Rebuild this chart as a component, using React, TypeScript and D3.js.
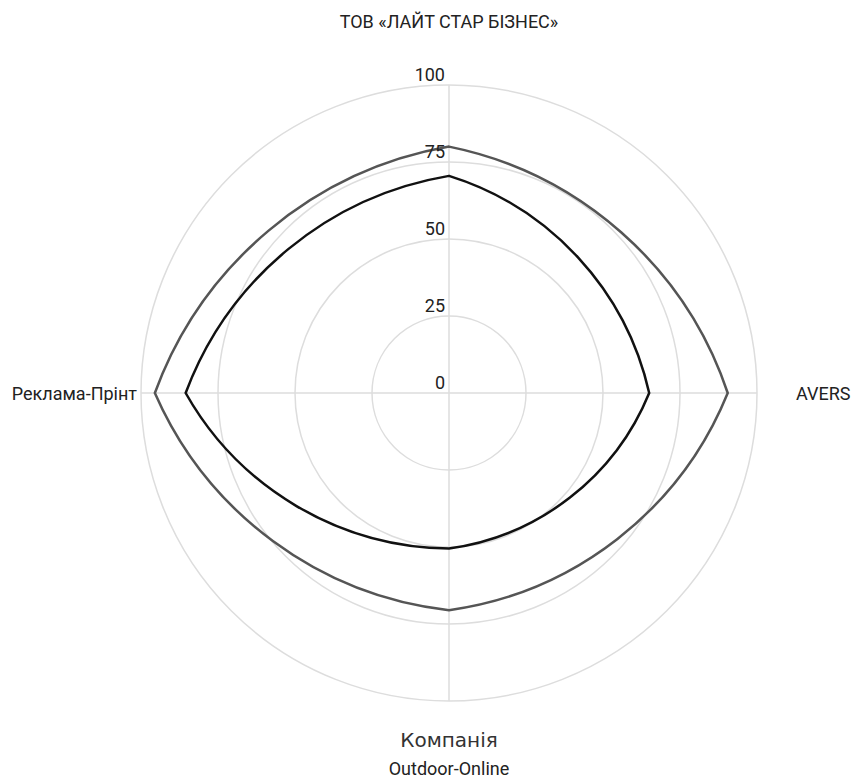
import React from "react";
import * as d3 from "d3";

const axes = ["ТОВ «ЛАЙТ СТАР БІЗНЕС»", "AVERS", "Outdoor-Online", "Реклама-Прінт"];
const seriesOuter = [80, 90.5, 70.5, 95.5];
const seriesInner = [70.5, 65, 50.5, 85.5];
const ticks = [0, 25, 50, 75, 100];
const axisTitle = "Компанія";

const W = 853, H = 778;
const cx = 449, cy = 393;
const R = 308;

export default function App() {
  const r = d3.scaleLinear().domain([0, 100]).range([0, R]);
  const angle = d3.scaleLinear().domain([0, axes.length]).range([0, 2 * Math.PI]);

  // each segment drawn as an arc whose radius equals the chord length
  const pathFor = (vals: number[]) => {
    const pts = vals.map((v, i) => {
      const p = d3.pointRadial(angle(i), r(v));
      return p;
    });
    let d = `M${pts[0][0]},${pts[0][1]}`;
    pts.forEach((p, i) => {
      const q = pts[(i + 1) % pts.length];
      const dr = Math.hypot(q[0] - p[0], q[1] - p[1]);
      d += `A${dr},${dr} 0 0 1 ${q[0]},${q[1]}`;
    });
    return d + "Z";
  };

  const font = "Roboto, sans-serif";
  return (
    <svg width={W} height={H} style={{ position: "absolute", left: 0, top: 0, background: "#fff" }}>
      <g transform={`translate(${cx},${cy})`}>
        {ticks.filter((t) => t > 0).map((t) => (
          <circle key={t} r={r(t)} fill="none" stroke="#dddddd" strokeWidth={1.5} />
        ))}
        {axes.map((a, i) => {
          const [x2, y2] = d3.pointRadial(angle(i), R);
          return <line key={a} x1={0} y1={0} x2={x2} y2={y2} stroke="#dddddd" strokeWidth={1.5} />;
        })}
        <path d={pathFor(seriesOuter)} fill="none" stroke="#555555" strokeWidth={2.5} />
        <path d={pathFor(seriesInner)} fill="none" stroke="#111111" strokeWidth={2.5} />
        {ticks.map((t) => (
          <text key={t} x={-4} y={-r(t) - 4} textAnchor="end" fontFamily={font} fontSize={18} fill="#222">
            {t}
          </text>
        ))}
      </g>
      <text x={cx} y={28} textAnchor="middle" fontFamily={font} fontSize={18} fill="#222">{axes[0]}</text>
      <text x={796} y={400} textAnchor="start" fontFamily={font} fontSize={18} fill="#222">{axes[1]}</text>
      <text x={cx} y={775} textAnchor="middle" fontFamily={font} fontSize={18} fill="#222">{axes[2]}</text>
      <text x={137} y={400} textAnchor="end" fontFamily={font} fontSize={18} fill="#222">{axes[3]}</text>
      <text x={cx} y={747} textAnchor="middle" fontFamily="DejaVu Sans, sans-serif" fontSize={20} fill="#333">{axisTitle}</text>
    </svg>
  );
}
